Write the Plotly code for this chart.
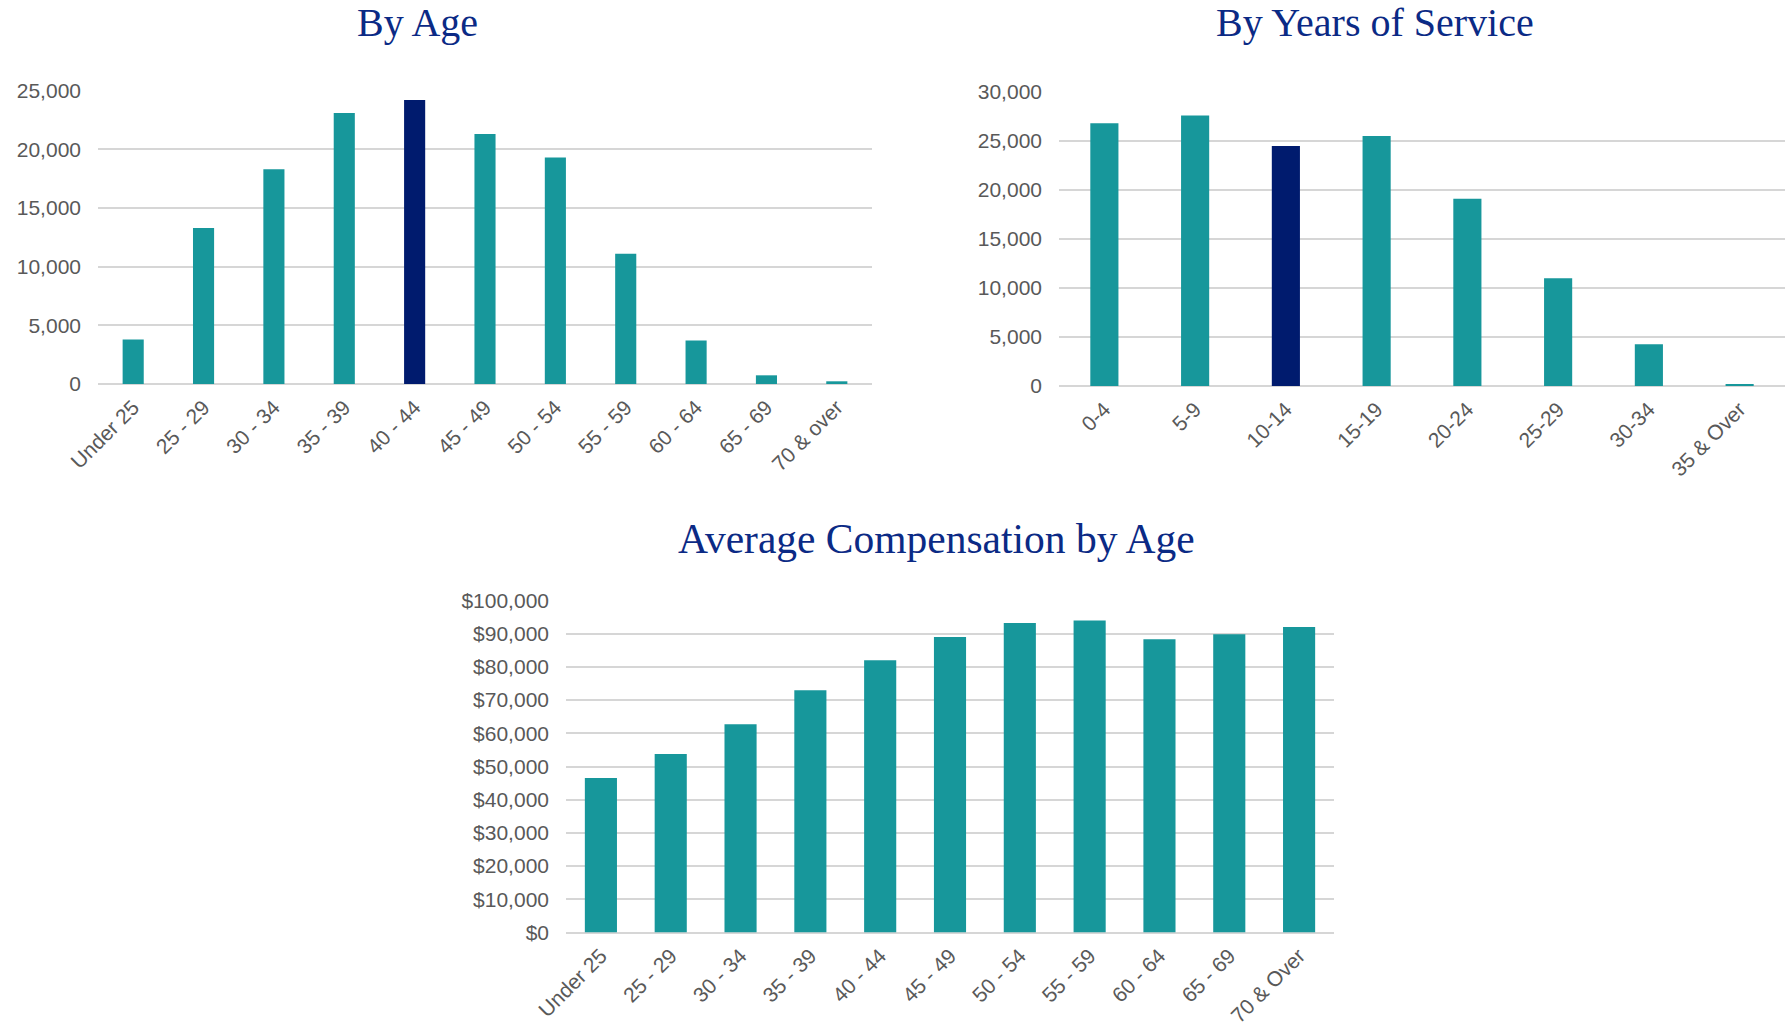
import plotly.graph_objects as go

# ---- data ----
age_groups = ["Under 25", "25 - 29", "30 - 34", "35 - 39", "40 - 44", "45 - 49",
              "50 - 54", "55 - 59", "60 - 64", "65 - 69", "70 & over"]
age_counts = [3800, 13300, 18300, 23100, 24200, 21300, 19300, 11100, 3700, 740, 230]

service_groups = ["0-4", "5-9", "10-14", "15-19", "20-24", "25-29", "30-34", "35 & Over"]
service_counts = [26800, 27600, 24500, 25500, 19100, 11000, 4250, 200]

comp_groups = ["Under 25", "25 - 29", "30 - 34", "35 - 39", "40 - 44", "45 - 49",
               "50 - 54", "55 - 59", "60 - 64", "65 - 69", "70 & Over"]
comp_values = [46500, 53800, 62700, 73000, 82000, 89000, 93200, 94000, 88300, 89800, 92000]

age_highlight = "40 - 44"
service_highlight = "10-14"

TEAL = "#17979B"
NAVY = "#001B6E"
GRID = "#D6D6D6"
TICK = "#595959"
TITLE = "#0B2A85"
W, H = 1785, 1034


def colors(cats, hl):
    return [NAVY if c == hl else TEAL for c in cats]


fig = go.Figure()
fig.add_trace(go.Bar(x=age_groups, y=age_counts, marker_color=colors(age_groups, age_highlight),
                     marker_line_width=0, xaxis="x", yaxis="y", width=0.30))
fig.add_trace(go.Bar(x=service_groups, y=service_counts,
                     marker_color=colors(service_groups, service_highlight),
                     marker_line_width=0, xaxis="x2", yaxis="y2", width=0.31))
fig.add_trace(go.Bar(x=comp_groups, y=comp_values, marker_color=TEAL,
                     marker_line_width=0, xaxis="x3", yaxis="y3", width=0.46))

tickfont = dict(family="Liberation Sans, Arial, sans-serif", size=21, color=TICK)


def xax(domain, anchor):
    return dict(domain=domain, anchor=anchor, tickangle=-45, tickfont=tickfont,
                showgrid=False, showline=False, ticks="", fixedrange=True,
                automargin=False, ticklabelstandoff=6)


def yax(domain, anchor, rng, dtick, prefix=""):
    return dict(domain=domain, anchor=anchor, range=rng, dtick=dtick, tickformat=",",
                tickprefix=prefix, tickfont=tickfont, showgrid=True, gridcolor=GRID,
                gridwidth=1.5, zeroline=True, zerolinecolor=GRID, zerolinewidth=1.5,
                showline=False, ticks="", ticklabelstandoff=16, automargin=False,
                fixedrange=True)


fig.update_layout(
    template="none",
    width=W, height=H,
    margin=dict(l=0, r=0, t=0, b=0, pad=0),
    paper_bgcolor="white", plot_bgcolor="white",
    showlegend=False,
    xaxis=xax([98 / W, 872 / W], "y"),
    yaxis=yax([1 - 384 / H, 1 - 90.7 / H], "x", [0, 25000], 5000),
    xaxis2=xax([1059 / W, 1.0], "y2"),
    yaxis2=yax([1 - 386 / H, 1 - 92 / H], "x2", [0, 30000], 5000),
    xaxis3=xax([566 / W, 1334 / W], "y3"),
    yaxis3=yax([1 - 932.5 / H, 1 - 600.5 / H], "x3", [0, 100000], 10000, "$"),
)

title_font = dict(family="Liberation Serif, Times New Roman, serif", size=40, color=TITLE)
for text, cx, cy, sz in [("By Age", 417, 23, 40), ("By Years of Service", 1375, 23, 40),
                         ("Average Compensation by Age", 936, 539, 41.5)]:
    fig.add_annotation(text=text, x=cx / W, y=1 - cy / H, xref="paper", yref="paper",
                       xanchor="center", yanchor="middle", showarrow=False,
                       font=dict(title_font, size=sz))

fig.write_html("out.html", config={"displayModeBar": False},
               post_script="document.body.style.margin='0';document.body.style.overflow='hidden';")
